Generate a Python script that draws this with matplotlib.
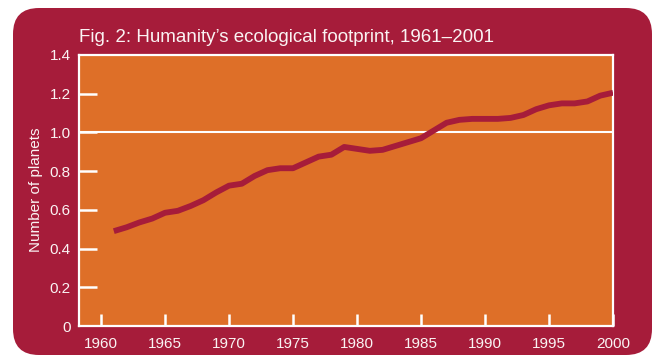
import matplotlib
matplotlib.use("Agg")
from matplotlib import pyplot as plt
from matplotlib.patches import FancyBboxPatch

plt.rcParams["font.family"] = ["Liberation Sans", "DejaVu Sans"]

# ecological footprint in number of planets, by year
years = list(range(1961, 2001))
planets = [
  0.49, 0.51, 0.535, 0.555, 0.585, 0.595, 0.62, 0.65, 0.69, 0.725,
  0.735, 0.775, 0.805, 0.815, 0.815, 0.845, 0.875, 0.885, 0.925, 0.915,
  0.905, 0.91, 0.93, 0.95, 0.97, 1.01, 1.05, 1.065, 1.07, 1.07,
  1.07, 1.075, 1.09, 1.12, 1.14, 1.15, 1.15, 1.16, 1.19, 1.205,
]
x_ticks = [1960, 1965, 1970, 1975, 1980, 1985, 1990, 1995, 2000]
y_ticks = [0, 0.2, 0.4, 0.6, 0.8, 1.0, 1.2, 1.4]
y_labels = ["0", "0.2", "0.4", "0.6", "0.8", "1.0", "1.2", "1.4"]
title = "Fig. 2: Humanity’s ecological footprint, 1961–2001"
y_title = "Number of planets"

W, H = 658, 356
panel_red = "#a61c3a"
orange = "#de6f28"
txt = "#faf3f3"

fig = plt.figure(figsize=(W / 100, H / 100), dpi=100)
fig.patch.set_facecolor("white")

# background layer in pixel units
bg = fig.add_axes([0, 0, 1, 1])
bg.set_xlim(0, W)
bg.set_ylim(H, 0)
bg.axis("off")
bg.add_patch(FancyBboxPatch((13, 8), 639, 347,
  boxstyle="round,pad=0,rounding_size=26",
  facecolor=panel_red, edgecolor="none"))
bg.text(79, 42, title, color=txt, fontsize=13.5, ha="left", va="baseline")
bg.text(36, 190, y_title, color=txt, fontsize=11, rotation=90,
  ha="center", va="center")

left, right, top, bottom = 79, 613, 55, 326
ax = fig.add_axes([left / W, (H - bottom) / H, (right - left) / W, (bottom - top) / H])
ax.set_facecolor(orange)
ax.plot(years, planets, color=panel_red, linewidth=4.2, solid_capstyle="butt",
  solid_joinstyle="round", zorder=3)
ax.axhline(1.0, color="white", linewidth=1.5, zorder=2)

ax.set_xlim(1958.28, 2000)
ax.set_ylim(0, 1.4)
for s in ax.spines.values():
  s.set_color("white")
  s.set_linewidth(1.6)

ax.set_xticks(x_ticks)
ax.set_xticklabels([str(x) for x in x_ticks])
ax.set_yticks(y_ticks)
ax.set_yticklabels(y_labels)
ax.tick_params(axis="x", direction="in", length=9, width=1.8, color="white",
  labelcolor=txt, labelsize=11, pad=8)
ax.tick_params(axis="y", direction="in", length=13, width=1.8, color="white",
  labelcolor=txt, labelsize=11, pad=6)
ax.tick_params(top=False, right=False)
yt = ax.yaxis.get_major_ticks()
yt[0].tick1line.set_visible(False)
yt[-1].tick1line.set_visible(False)

plt.savefig("out.png", dpi=100, facecolor="white")
plt.close()
